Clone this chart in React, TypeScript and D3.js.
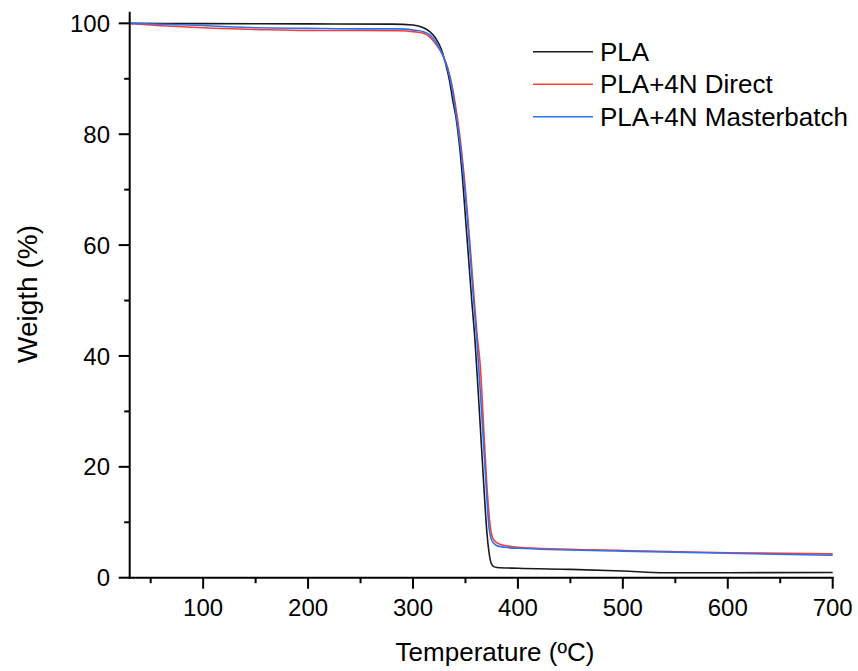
import React, { useEffect, useRef } from "react";
import * as d3 from "d3";

const temps_pla = [30, 100, 200, 280, 300, 310, 316, 322, 327, 331, 335, 338, 341, 344, 347, 350, 353, 356, 359, 362, 365, 368, 370.5, 372.5, 374.5, 377, 380, 400, 450, 500, 540, 600, 700];
const weight_pla = [100, 99.95, 99.9, 99.85, 99.7, 99.2, 98.5, 97.2, 95.3, 92.8, 89.5, 86, 83, 78.5, 72.5, 65, 57.5, 50, 43, 34, 24.5, 15, 8, 4.5, 2.6, 2.0, 1.85, 1.7, 1.5, 1.2, 0.9, 0.9, 0.95];

const temps_direct = [30, 50, 100, 150, 200, 250, 288, 300, 310, 316, 322, 329, 333, 337, 340, 343, 346, 349, 352, 355, 358, 361, 364, 368, 371, 373.5, 375.5, 378, 382, 400, 500, 600, 700];
const weight_direct = [100, 99.7, 99.2, 98.9, 98.7, 98.7, 98.65, 98.5, 98.2, 97.5, 96.2, 94, 92, 89, 85.8, 82, 77.5, 72, 65.5, 58.5, 51, 44, 38.5, 24.8, 15, 9.5, 7.4, 6.6, 6.1, 5.5, 4.9, 4.5, 4.3];

const temps_master = [30, 100, 150, 200, 250, 288, 300, 310, 316, 322, 329, 333, 337, 340, 343, 346, 349, 352, 355, 358, 361, 364, 367, 370, 372.5, 374.5, 377, 381, 400, 500, 600, 700];
const weight_master = [100, 99.6, 99.2, 99.1, 99.0, 99.0, 98.8, 98.5, 97.9, 96.6, 94, 91.8, 88.5, 85, 81, 76.5, 71, 64.5, 57, 49.5, 42.5, 34, 25, 15.5, 9, 7, 6.2, 5.7, 5.3, 4.8, 4.4, 4.05];

const seriesNames = ["PLA", "PLA+4N Direct", "PLA+4N Masterbatch"];
const seriesColors = ["#1a1a1a", "#ff3b3b", "#2a72f0"];

const xMajorTicks = [100, 200, 300, 400, 500, 600, 700];
const xMinorTicks = [50, 150, 250, 350, 450, 550, 650];
const yMajorTicks = [0, 20, 40, 60, 80, 100];
const yMinorTicks = [10, 30, 50, 70, 90];

const xTitle = "Temperature (ºC)";
const yTitle = "Weigth (%)";

export default function App() {
  const ref = useRef<SVGSVGElement>(null);
  useEffect(() => {
    const svg = d3.select(ref.current);
    svg.selectAll("*").remove();
    const W = 858, H = 671;
    const left = 129.7, right = 832.7, top = 11.7, bottom = 577.7;
    const x = d3.scaleLinear().domain([30, 700]).range([left, right]);
    const y = d3.scaleLinear().domain([0, 102.1]).range([bottom, top]);
    const font = "'Liberation Sans', Arial, sans-serif";

    svg.append("rect").attr("width", W).attr("height", H).attr("fill", "#fff");

    const series = [
      { t: temps_pla, w: weight_pla },
      { t: temps_direct, w: weight_direct },
      { t: temps_master, w: weight_master },
    ];
    const line = d3.line<[number, number]>()
      .x(d => x(d[0]))
      .y(d => y(d[1]))
      .curve(d3.curveMonotoneX);
    [0, 1, 2].forEach(i => {
      const pts: [number, number][] = series[i].t.map((t, j) => [t, series[i].w[j]]);
      svg.append("path")
        .attr("d", line(pts) as string)
        .attr("fill", "none")
        .attr("stroke", seriesColors[i])
        .attr("stroke-width", 1.6);
    });

    const ax = svg.append("g").attr("stroke", "#000").attr("stroke-width", 2);
    ax.append("line").attr("x1", left - 1).attr("x2", right + 1).attr("y1", bottom).attr("y2", bottom);
    ax.append("line").attr("x1", left).attr("x2", left).attr("y1", top).attr("y2", bottom + 1);
    xMajorTicks.forEach(v => {
      ax.append("line").attr("x1", x(v)).attr("x2", x(v)).attr("y1", bottom).attr("y2", bottom + 11);
    });
    xMinorTicks.forEach(v => {
      ax.append("line").attr("x1", x(v)).attr("x2", x(v)).attr("y1", bottom).attr("y2", bottom + 5.5);
    });
    yMajorTicks.forEach(v => {
      ax.append("line").attr("x1", left - 11).attr("x2", left).attr("y1", y(v)).attr("y2", y(v));
    });
    yMinorTicks.forEach(v => {
      ax.append("line").attr("x1", left - 5.5).attr("x2", left).attr("y1", y(v)).attr("y2", y(v));
    });

    const tl = svg.append("g").attr("font-family", font).attr("font-size", 24).attr("fill", "#000");
    xMajorTicks.forEach(v => {
      tl.append("text").attr("x", x(v)).attr("y", 615.5).attr("text-anchor", "middle").text(String(v));
    });
    yMajorTicks.forEach(v => {
      tl.append("text").attr("x", 110).attr("y", y(v)).attr("dy", "0.36em").attr("text-anchor", "end").text(String(v));
    });

    svg.append("text").attr("x", 495).attr("y", 661).attr("text-anchor", "middle")
      .attr("font-family", font).attr("font-size", 26).text(xTitle);
    svg.append("text").attr("transform", `translate(37,294) rotate(-90)`)
      .attr("text-anchor", "middle").attr("font-family", font).attr("font-size", 28).text(yTitle);

    const lg = svg.append("g");
    seriesNames.forEach((name, i) => {
      const ly = 51.7 + i * 32.5;
      lg.append("line").attr("x1", 533).attr("x2", 593).attr("y1", ly).attr("y2", ly)
        .attr("stroke", seriesColors[i]).attr("stroke-width", 1.6);
      lg.append("text").attr("x", 600).attr("y", ly + 9).attr("font-family", font)
        .attr("font-size", 26).text(name);
    });
  }, []);
  return (
    <svg ref={ref} width={858} height={671} style={{ position: "absolute", left: 0, top: 0 }} />
  );
}
